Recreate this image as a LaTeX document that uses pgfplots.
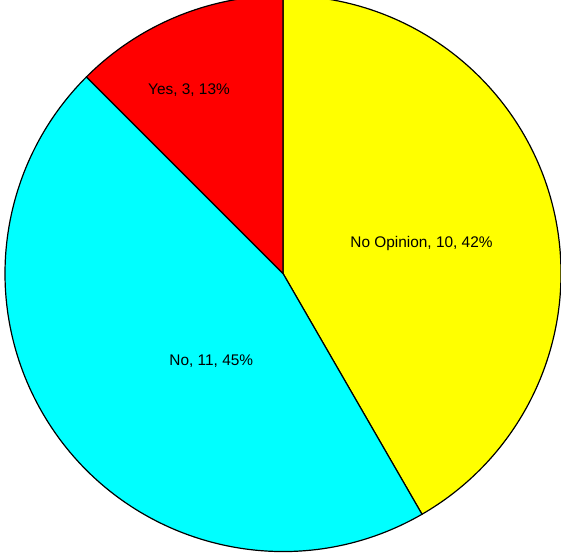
\documentclass[border=0pt]{standalone}
\usepackage{pgfplots}
\usepackage{pgfplotstable}
\pgfplotsset{compat=1.18}
\usepackage{fontspec}
\setmainfont{Liberation Sans}

\definecolor{pieyellow}{RGB}{255,255,0}
\definecolor{piecyan}{RGB}{0,255,255}
\definecolor{piered}{RGB}{255,0,0}

% pie data: label, count
\pgfplotstableread{
label value
Yes 3
No 11
NoOpinion 10
}\pietable

\pgfplotstablegetelem{0}{value}\of\pietable \let\vYes\pgfplotsretval
\pgfplotstablegetelem{1}{value}\of\pietable \let\vNo\pgfplotsretval
\pgfplotstablegetelem{2}{value}\of\pietable \let\vNoOp\pgfplotsretval
\pgfmathsetmacro\total{\vYes+\vNo+\vNoOp}
% slices run clockwise from 12 o'clock
\pgfmathsetmacro\aA{90-360*\vNoOp/\total}
\pgfmathsetmacro\aB{\aA-360*\vNo/\total}
\pgfmathsetmacro\aC{\aB-360*\vYes/\total}

\def\cx{283}
\def\cy{280.5}
\def\rad{278pt}

\begin{document}
\begin{tikzpicture}
\begin{axis}[
  x=1pt,y=1pt,
  xmin=0,xmax=561,
  ymin=0,ymax=554,
  hide axis,
  scale only axis,
  clip=true,
]
\fill[pieyellow,draw=black,line width=1.2pt,line join=round]
  (axis cs:\cx,\cy) -- ++(90:\rad) arc[start angle=90,end angle=\aA,radius=\rad] -- cycle;
\fill[piecyan,draw=black,line width=1.2pt,line join=round]
  (axis cs:\cx,\cy) -- ++(\aA:\rad) arc[start angle=\aA,end angle=\aB,radius=\rad] -- cycle;
\fill[piered,draw=black,line width=1.2pt,line join=round]
  (axis cs:\cx,\cy) -- ++(\aB:\rad) arc[start angle=\aB,end angle=\aC,radius=\rad] -- cycle;

\node[anchor=base,font=\fontsize{15.4}{18}\selectfont] at (axis cs:189,459.7) {Yes, 3, 13\%};
\node[anchor=base,font=\fontsize{15.4}{18}\selectfont] at (axis cs:211.3,189) {No, 11, 45\%};
\node[anchor=base,font=\fontsize{15.4}{18}\selectfont] at (axis cs:421.5,306.3) {No Opinion, 10, 42\%};
\end{axis}
\path (0,0) rectangle (561pt,554pt);
\end{tikzpicture}
\end{document}
